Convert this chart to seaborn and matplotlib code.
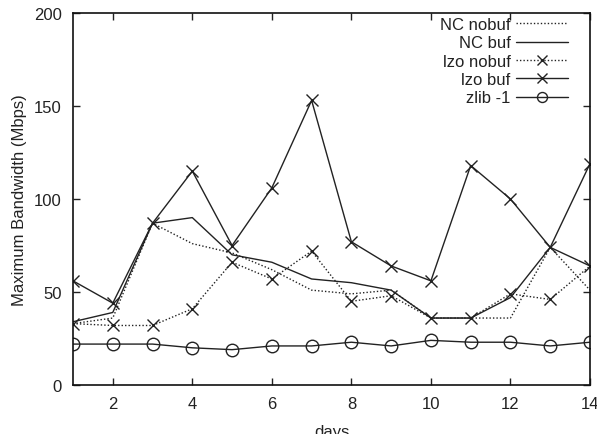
import seaborn as sns
import matplotlib.pyplot as plt
import pandas as pd

days = list(range(1, 15))

nc_nobuf = [33, 36, 87, 76, 71, 62, 51, 49, 51, 36, 36, 36, 74, 51]
nc_buf = [34, 39, 87, 90, 70, 66, 57, 55, 51, 36, 36, 47, 74, 64]
lzo_nobuf = [33, 32, 32, 41, 66, 57, 72, 45, 48, 36, 36, 49, 46, 64]
lzo_buf = [56, 44, 87, 115, 75, 106, 153, 77, 64, 56, 118, 100, 74, 119]
zlib_1 = [22, 22, 22, 20, 19, 21, 21, 23, 21, 24, 23, 23, 21, 23]

series_names = ["NC nobuf", "NC buf", "lzo nobuf", "lzo buf", "zlib -1"]
series_values = [nc_nobuf, nc_buf, lzo_nobuf, lzo_buf, zlib_1]

# line style per series (gnuplot-like monochrome)
styles = {
    "NC nobuf": dict(linestyle=(0, (1, 1.5)), marker=None),
    "NC buf": dict(linestyle="-", marker=None),
    "lzo nobuf": dict(linestyle=(0, (1, 1.5)), marker="x"),
    "lzo buf": dict(linestyle="-", marker="x"),
    "zlib -1": dict(linestyle="-", marker="o"),
}

df = pd.DataFrame(
    [(d, v, name) for name, vals in zip(series_names, series_values) for d, v in zip(days, vals)],
    columns=["days", "bw", "series"],
)

sns.set_style("ticks")
plt.rcParams["font.family"] = ["Liberation Sans", "DejaVu Sans"]
plt.rcParams["font.size"] = 12

fig = plt.figure(figsize=(5.97, 4.35), dpi=100)
ax = fig.add_axes([73 / 597, 1 - 386 / 435, 517 / 597, 372 / 435])

for name in series_names:
    sub = df[df["series"] == name]
    st = styles[name]
    sns.lineplot(
        data=sub, x="days", y="bw", ax=ax, label=name,
        color="#222222", linewidth=1.0, linestyle=st["linestyle"],
        marker=st["marker"], markersize=9, markerfacecolor="none",
        markeredgecolor="#222222", markeredgewidth=1.0,
    )

ax.set_xlim(1, 14)
ax.set_ylim(0, 200)
ax.set_xticks([2, 4, 6, 8, 10, 12, 14])
ax.set_yticks([0, 50, 100, 150, 200])
ax.tick_params(direction="in", top=True, right=True, length=5, width=1,
               labelsize=12, colors="#222222", pad=8)
for sp in ax.spines.values():
    sp.set_linewidth(1.2)
    sp.set_color("#111111")

ax.set_xlabel("days", fontsize=12, color="#222222", labelpad=9)
ax.set_ylabel("Maximum Bandwidth (Mbps)", fontsize=12, color="#222222", labelpad=5)

leg = ax.legend(loc="upper right", bbox_to_anchor=(568 / 597, 1 - 18 / 435),
                bbox_transform=fig.transFigure, frameon=False, markerfirst=False,
                handlelength=3.1, labelspacing=0.2, borderaxespad=0, borderpad=0,
                handletextpad=0.35, fontsize=12, markerscale=0.8)
for t in leg.get_texts():
    t.set_ha("right")
    t.set_color("#222222")
leg._legend_box.align = "right"

fig.savefig("out.png", dpi=100)
